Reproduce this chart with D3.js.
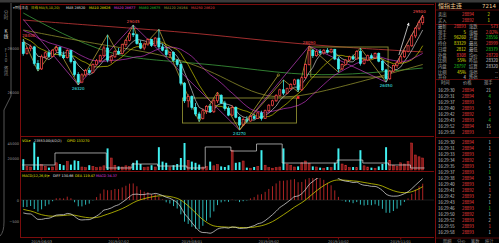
<!DOCTYPE html>
<html>
<head>
<meta charset="utf-8">
<script src="https://cdn.jsdelivr.net/npm/d3@7"></script>
<style>
html, body { margin: 0; padding: 0; background: #000; }
svg { display: block; font-family: "Noto Sans CJK SC", "DejaVu Sans", sans-serif; }
</style>
</head>
<body>
<svg id="chart" width="499" height="243"></svg>
<script>
'use strict';

// closes before the visible window (only used to warm up the averages)
const priorCloses = [29400, 29350, 29200, 29300, 29150, 29000, 29100, 28900, 28950, 28800,
	28700, 28850, 28600, 28650, 28500, 28450, 28550, 28400, 28300];

// daily bars: [open, high, low, close]
const candles = [
	[28250, 28400, 27650, 27750], [27750, 28050, 27700, 27980], [27980, 28150, 27850, 28050], [28050, 28100, 27200, 27300],
	[27300, 27450, 26950, 27050], [27050, 27700, 27000, 27600], [27600, 27850, 27500, 27780], [27780, 27900, 27550, 27620],
	[27620, 27950, 27580, 27900], [27900, 28100, 27800, 28020], [28020, 28080, 27600, 27680], [27680, 27850, 27500, 27560],
	[27560, 27950, 27520, 27880], [27880, 27920, 27300, 27380], [27380, 27420, 26700, 26800], [26800, 26900, 26320, 26450],
	[26450, 26850, 26400, 26780], [26780, 27050, 26700, 26980], [26980, 27100, 26800, 26880], [26880, 27300, 26850, 27250],
	[27250, 27500, 27200, 27420], [27420, 27700, 27350, 27650], [27650, 28100, 27600, 28000], [28000, 28600, 27350, 27450],
	[27450, 27700, 27300, 27600], [27600, 27900, 27550, 27850], [27850, 28000, 27700, 27750], [27750, 28200, 27700, 28150],
	[28150, 28400, 28050, 28350], [28350, 28700, 28300, 28650], [28650, 29045, 28500, 28600], [28600, 28650, 28150, 28200],
	[28200, 28350, 27950, 28000], [28000, 28250, 27900, 28180], [28180, 28450, 28100, 28380], [28380, 28420, 28050, 28120],
	[28120, 28500, 28080, 28450], [28450, 28850, 27950, 28050], [28050, 28200, 27850, 27900], [27900, 28000, 27600, 27700],
	[27700, 27850, 27550, 27800], [27800, 27850, 27400, 27450], [27450, 27500, 27150, 27250], [27250, 27300, 26300, 26400],
	[26400, 26450, 25500, 25600], [25600, 25900, 25300, 25800], [25800, 25850, 25200, 25300], [25300, 25500, 24900, 25000],
	[25000, 25100, 24650, 24800], [24800, 25250, 24750, 25150], [25150, 25400, 25000, 25350], [25350, 25450, 25050, 25100],
	[25100, 25700, 25050, 25600], [25600, 26000, 25500, 25850], [25850, 25900, 25450, 25500], [25500, 25600, 25150, 25250],
	[25250, 25350, 24900, 24950], [24950, 25400, 24900, 25300], [25300, 25350, 24800, 24850], [24850, 24900, 24270, 24500],
	[24500, 24850, 24450, 24750], [24750, 24900, 24600, 24680], [24680, 24950, 24650, 24880], [24880, 25000, 24750, 24800],
	[24800, 25100, 24780, 25050], [25050, 25150, 24700, 24800], [24800, 25200, 24780, 25150], [25150, 25450, 25100, 25400],
	[25400, 25650, 25350, 25600], [25600, 25900, 25550, 25850], [25850, 26150, 25800, 26100], [26100, 26550, 25850, 25950],
	[25950, 26200, 25900, 26150], [26150, 26400, 26100, 26350], [26350, 26600, 26300, 26550], [26550, 26600, 26000, 26100],
	[26100, 26700, 26050, 26650], [26650, 27300, 26600, 27250], [27250, 28090, 27200, 27900], [27900, 27950, 27550, 27650],
	[27650, 27900, 27600, 27850], [27850, 27950, 27700, 27780], [27780, 27950, 27700, 27900], [27900, 28000, 27750, 27820],
	[27820, 27980, 27760, 27940], [27940, 27960, 27450, 27500], [27500, 27600, 26900, 27050], [27050, 27300, 27000, 27250],
	[27250, 27500, 27200, 27450], [27450, 27650, 27400, 27600], [27600, 27700, 27450, 27500], [27500, 27900, 27480, 27850],
	[27850, 28000, 27200, 27300], [27300, 27500, 27250, 27450], [27450, 27700, 27400, 27650], [27650, 27750, 27500, 27550],
	[27550, 27800, 27500, 27750], [27750, 27800, 27350, 27400], [27400, 27450, 26950, 27000], [27000, 27050, 26450, 26600],
	[26600, 27000, 26550, 26950], [26950, 27250, 26900, 27200], [27200, 27400, 27100, 27350], [27350, 27650, 27300, 27600],
	[27600, 27900, 27550, 27850], [27850, 28150, 27800, 28100], [28100, 28600, 28050, 28550], [28550, 28950, 28450, 28900],
	[28900, 29250, 28800, 29150], [29150, 29500, 29050, 29400]
];

const volumes = [
	18000, 6000, 5000, 46000, 22000, 9000, 6000, 4000, 5000, 12000,
	10000, 8000, 14000, 9000, 16000, 15000, 5000, 4000, 8000, 6000,
	4000, 5000, 7000, 36000, 20000, 8000, 6000, 5000, 7000, 6000,
	12000, 16000, 10000, 4000, 5000, 8000, 5000, 38000, 14000, 12000,
	5000, 8000, 10000, 20000, 45000, 16000, 14000, 12000, 9000, 5000,
	6000, 14000, 7000, 9000, 6000, 5000, 8000, 33000, 12000, 13000,
	15000, 4000, 3000, 5000, 6000, 33000, 8000, 4000, 3000, 4000,
	5000, 36000, 10000, 8000, 5000, 6000, 12000, 15000, 11000, 6000,
	5000, 4000, 3000, 5000, 4000, 12000, 36000, 10000, 8000, 4000,
	5000, 4000, 33000, 7000, 5000, 4000, 3000, 6000, 10000, 38000,
	16000, 8000, 6000, 12000, 10000, 14000, 45000, 25000, 22000, 20000
];

// open interest, [first bar of the step, value]
const oiSteps = [[0, 106700], [9, 122700], [23, 102700], [30, 108000], [37, 105300], [45, 102700], [50, 130700],
	[57, 125300], [64, 134700], [71, 109300], [86, 113300], [93, 109300], [100, 106700], [106, 102700], [110, 102700]];

// long averages, [bar, price]
const ma60Pts = [[0, 28820], [21, 28140], [40, 27680], [54, 26770], [67, 25500], [84, 26090], [109, 27250]];
const ma120Pts = [[0, 29590], [10, 28680], [24, 27680], [35, 27450], [54, 27230], [74, 26770], [89, 26770], [109, 27090]];
const ma250Pts = [[0, 29270], [21, 29000], [48, 28680], [76, 28140], [109, 27820]];

// wave lines, [bar, price]
const zigMinor = [[0, 28400], [4, 26950], [9, 28100], [15, 26320], [23, 28600], [26, 27700], [30, 29045], [32, 27950],
	[37, 28850], [48, 24650], [53, 26000], [59, 24270], [71, 26550], [75, 26000], [78, 28090], [86, 26900],
	[92, 28000], [99, 26450], [109, 29500]];
const zigMajor = [[0, 29300], [15, 26320], [30, 29045], [59, 24270], [78, 28090], [99, 26450], [109, 29500]];
const arrows = [[102.5, 27680, 105.2, 29136, '#e0e0e0'], [59, 24270, 69.6, 26770, '#b0a030']];
const signals = [[75, 25750]];

// consolidation boxes, [first bar, last bar, top, bottom]
const boxes = [[44, 74, 25727, 24590], [79, 99, 28045, 26680]];
const extremes = [[0, 'high'], [15, 'low'], [30, 'high'], [59, 'low'], [78, 'high'], [99, 'low'], [109, 'high']];

const priceTicks = [28000, 26000];
const volTicks = [45000, 20000];
const macdTicks = [0, -500];
const dateTicks = [5, 26, 46, 67, 86, 103];
const dateLabels = ['2019/06/03', '2019/07/02', '2019/08/01', '2019/09/02', '2019/10/02', '2019/11/01'];

// quote panel
const bookLabels = ['卖出', '买入'];
const bookPrices = ['28894', '28892'];
const bookSizes = ['2', '1'];
const quoteLeftLabels = ['最新', '现手', '总手', '持仓', '日增', '外盘', '比例', '内盘', '比例', '开仓'];
const quoteLeftValues = ['28893', '5', '96260', '83329', '2812', '8308', '55%', '28797', '45%', '4'];
const quoteLeftColors = ['r', 'y', 'y', 'y', 'y', 'r', 'y', 'g', 'y', 'w'];
const quoteRightLabels = ['涨跌', '涨幅', '开盘', '最高', '最低', '均价', '昨结', '结算', '涨停', '跌停'];
const quoteRightValues = ['573', '2.02%', '28556', '28999', '28379', '28720', '28320', '28320', '--', '--'];
const quoteRightColors = ['r', 'r', 'g', 'r', 'g', 'r', 'w', 'w', 'w', 'w'];
const tickTimes = ['16:29:30', '16:29:31', '16:29:37', '16:29:40', '16:29:42', '16:29:43', '16:29:52', '16:29:58',
	'16:29:30', '16:29:31', '16:29:33', '16:29:34', '16:29:35', '16:29:37', '16:29:38', '16:29:40',
	'16:29:41', '16:29:42', '16:29:43', '16:29:46', '16:29:50', '16:29:52', '16:29:55', '16:29:58'];
const tickPrices = ['28894', '28894', '28893', '28893', '28892', '28893', '28894', '28893',
	'28894', '28894', '28893', '28892', '28893', '28893', '28894', '28893',
	'28892', '28893', '28894', '28893', '28892', '28893', '28893', '28893'];
const tickSizes = ['21', '4', '1', '5', '1', '4', '15', '1', '1', '1', '1', '2', '1', '1', '3', '1',
	'1', '2', '1', '1', '1', '2', '1', '1'];
const tickSizeColors = ['w', 'g', 'r', 'w', 'r', 'g', 'w', 'r', 'w', 'w', 'r', 'w', 'w', 'g', 'w', 'w',
	'r', 'w', 'w', 'g', 'w', 'w', 'r', 'w'];

(function () {

	const C = {
		up: '#ff4848', down: '#40f0f0', frame: '#7a0c0c', axis: '#9a9a9a',
		r: '#ff4040', g: '#20d020', y: '#e6e600', w: '#d8d8d8', lab: '#a8a8a8'
	};
	const svg = d3.select('#chart');
	const plotL = 21, plotR = 434;

	const x = d3.scaleBand()
		.domain(d3.range(candles.length))
		.range([22, 424])
		.paddingInner(0.3);
	const xi = i => x(0) + i * x.step() + x.bandwidth() / 2;

	const y = d3.scaleLinear().domain([24000, 29636]).range([136, 12]);
	const yVol = d3.scaleLinear().domain([0, 45000]).range([170, 143]);
	const yOi = d3.scaleLinear().domain([100000, 140000]).range([170, 140]);
	const yMacd = d3.scaleLinear().domain([-600, 0]).range([226, 200]);

	const defs = svg.append('defs');
	const clip = (id, top, bottom) => defs.append('clipPath').attr('id', id)
		.append('rect').attr('x', plotL).attr('y', top).attr('width', plotR - plotL).attr('height', bottom - top);
	clip('cMain', 10, 136);
	clip('cVol', 137, 171);
	clip('cMacd', 178, 237);
	defs.append('marker').attr('id', 'arr').attr('viewBox', '0 0 6 6').attr('refX', 5).attr('refY', 3)
		.attr('markerWidth', 4).attr('markerHeight', 4).attr('orient', 'auto')
		.append('path').attr('d', 'M0,0 L6,3 L0,6 z').attr('fill', '#e0e0e0');

	// window chrome
	svg.append('rect').attr('width', 499).attr('height', 2.5).attr('fill', '#3a3a3a');
	svg.append('line').attr('x1', plotL).attr('x2', plotR).attr('y1', 4.5).attr('y2', 4.5)
		.attr('stroke', C.frame);
	const frame = svg.append('g').attr('stroke', C.frame).attr('stroke-width', 1);
	[136.5, 171.5, 237.5].forEach(v => frame.append('line')
		.attr('x1', plotL).attr('x2', plotR).attr('y1', v).attr('y2', v));
	frame.append('line').attr('x1', plotL - 0.5).attr('x2', plotL - 0.5).attr('y1', 4).attr('y2', 238);
	frame.append('line').attr('x1', 435.5).attr('x2', 435.5).attr('y1', 2.5).attr('y2', 243);

	// left tab strip
	svg.append('path').attr('d', 'M11,3 V96 L4,110 V222 Q4,232 0,236')
		.attr('fill', 'none').attr('stroke', '#555');
	const tabs = [['分时', 14, '#8a8a8a'], ['K线', 33, '#e0e0e0'], ['F10', 52, '#8a8a8a'], ['资讯', 70, '#8a8a8a']];
	tabs.forEach(t => {
		const g = svg.append('text').attr('font-size', 4.5).attr('fill', t[2]).attr('text-anchor', 'middle');
		Array.from(t[0]).forEach((ch, k) => g.append('tspan').attr('x', 6).attr('y', t[1] + k * 5).text(ch));
	});

	// legends
	const legend = (items, yy) => items.forEach(d => svg.append('text')
		.attr('x', d[1]).attr('y', yy).attr('font-size', 3.4).attr('fill', d[2])
		.attr('font-family', 'DejaVu Sans, Noto Sans CJK SC').text(d[0]));
	legend([['▾恒指主连', 13, '#c8c8c8'], ['日线 MA(5,10,20)', 31, '#c8c800'],
		['MA5 28520', 66, '#e8e8e8'], ['MA10 28626', 89, '#e6e600'],
		['MA20 28677', 114, '#e040e0'], ['MA60 28675', 139, '#30c030'],
		['MA120 28164', 164, '#a0a040'], ['MA250 28620', 191, '#e04040']], 9);
	legend([['VOL▾', 22, '#e6e600'], ['23553.00(4/2/2)', 34, '#e8e8e8'],
		['OPID 133270', 67, '#e6e600']], 141.5);
	legend([['MACD(12,26,9)▾', 22, '#e6e600'], ['DIFF 130.66', 53, '#e8e8e8'],
		['DEA 119.47', 75, '#e6e600'], ['MACD 34.37', 96, '#e040e0']], 176.5);

	// left axes
	const leftAxis = (scale, ticks, fmt) => {
		const g = svg.append('g').attr('transform', `translate(${plotL - 2},0)`)
			.call(d3.axisLeft(scale).tickValues(ticks).tickSize(0).tickPadding(0).tickFormat(fmt));
		g.select('.domain').remove();
		g.selectAll('text').attr('fill', C.axis).attr('font-size', 3.6).attr('font-family', 'DejaVu Sans');
	};
	leftAxis(y, priceTicks, d3.format('d'));
	leftAxis(yVol, volTicks, d3.format('d'));
	leftAxis(yMacd, macdTicks, d3.format('d'));

	// date axis
	const xAxis = svg.append('g').attr('transform', 'translate(0,237.5)')
		.call(d3.axisBottom(x).tickValues(dateTicks).tickSize(2).tickPadding(0.5)
			.tickFormat((d, i) => dateLabels[i]));
	xAxis.select('.domain').remove();
	xAxis.selectAll('line').attr('stroke', C.frame);
	xAxis.selectAll('text').attr('fill', C.axis).attr('font-size', 3.6).attr('font-family', 'DejaVu Sans');

	// ---- main panel
	const main = svg.append('g').attr('clip-path', 'url(#cMain)');
	const line = d3.line().x(d => xi(d[0])).y(d => y(d[1]));
	const smooth = d3.line().x(d => xi(d[0])).y(d => y(d[1])).curve(d3.curveBasis);

	[[ma250Pts, '#c83838'], [ma120Pts, '#3c9c3c'], [ma60Pts, '#8c8c2c']].forEach(m => main.append('path')
		.attr('d', smooth(m[0])).attr('fill', 'none').attr('stroke', m[1]).attr('stroke-width', 0.8));

	boxes.forEach(b => main.append('rect')
		.attr('x', xi(b[0]) - 2).attr('y', y(b[2]))
		.attr('width', xi(b[1]) - xi(b[0]) + 4).attr('height', y(b[3]) - y(b[2]))
		.attr('fill', 'none').attr('stroke', '#8c8c30').attr('stroke-width', 0.9));

	const closes = candles.map(d => d[3]);
	const allCloses = priorCloses.concat(closes);
	const off = priorCloses.length;
	const movingAvg = n => closes.map((c, i) => [i, d3.mean(allCloses.slice(i + off - n + 1, i + off + 1))]);
	[[5, '#e8e8e8'], [10, '#e6e600'], [20, '#e040e0']].forEach(m => main.append('path')
		.attr('d', line(movingAvg(m[0]))).attr('fill', 'none').attr('stroke', m[1]).attr('stroke-width', 0.6));

	main.append('path').attr('d', line(zigMajor)).attr('fill', 'none')
		.attr('stroke', '#c040c0').attr('stroke-width', 0.7);
	main.append('path').attr('d', line(zigMinor)).attr('fill', 'none')
		.attr('stroke', '#c8b040').attr('stroke-width', 0.7);

	const bar = main.selectAll('g.candle')
		.data(candles)
		.enter()
		.append('g')
		.classed('candle', true);
	const col = d => d[3] >= d[0] ? C.up : C.down;
	bar.append('line')
		.attr('x1', (d, i) => xi(i)).attr('x2', (d, i) => xi(i))
		.attr('y1', d => y(d[1])).attr('y2', d => y(d[2]))
		.attr('stroke', col).attr('stroke-width', 0.8);
	bar.append('rect')
		.attr('x', (d, i) => x(i) + 0.25).attr('width', x.bandwidth() - 0.5)
		.attr('y', d => y(Math.max(d[0], d[3])))
		.attr('height', d => Math.max(0.8, Math.abs(y(d[0]) - y(d[3]))))
		.attr('fill', d => d[3] >= d[0] ? '#000' : C.down)
		.attr('stroke', col).attr('stroke-width', 0.7);

	arrows.forEach(a => main.append('line')
		.attr('x1', xi(a[0])).attr('y1', y(a[1])).attr('x2', xi(a[2])).attr('y2', y(a[3]))
		.attr('stroke', a[4]).attr('stroke-width', 0.8)
		.attr('marker-end', a[4] === '#e0e0e0' ? 'url(#arr)' : null));
	main.append('circle').attr('cx', xi(arrows[1][2])).attr('cy', y(arrows[1][3])).attr('r', 1.2)
		.attr('fill', 'none').attr('stroke', arrows[1][4]).attr('stroke-width', 0.6);
	signals.forEach(s => main.append('rect')
		.attr('x', xi(s[0]) - 1.3).attr('y', y(s[1]) - 1.3).attr('width', 2.6).attr('height', 2.6)
		.attr('fill', '#ff3030'));

	extremes.forEach(e => {
		const d = candles[e[0]];
		const hi = e[1] === 'high';
		const anchor = e[0] === 0 ? 'start' : (e[0] === candles.length - 1 ? 'end' : 'middle');
		svg.append('text')
			.attr('x', xi(e[0]) + (anchor === 'start' ? -1 : anchor === 'end' ? 3 : 0))
			.attr('y', hi ? y(d[1]) - 1.8 : y(d[2]) + 5)
			.attr('text-anchor', anchor).attr('font-size', 4).attr('font-family', 'DejaVu Sans')
			.attr('fill', hi ? '#ff5050' : C.down)
			.text(hi ? d[1] : d[2]);
	});

	// ---- volume panel
	const vg = svg.append('g').attr('clip-path', 'url(#cVol)');
	vg.selectAll('rect.vol')
		.data(volumes)
		.enter()
		.append('rect')
		.classed('vol', true)
		.attr('x', (d, i) => x(i) + 0.3).attr('width', x.bandwidth() - 0.6)
		.attr('y', d => yVol(d)).attr('height', d => yVol(0) - yVol(d))
		.attr('fill', (d, i) => candles[i][3] >= candles[i][0] ? '#8a1c1c' : C.down)
		.attr('stroke', (d, i) => candles[i][3] >= candles[i][0] ? '#d03030' : 'none')
		.attr('stroke-width', 0.5);
	vg.append('path')
		.attr('d', d3.line().x(d => d[0] === candles.length ? xi(d[0] - 0.5) : x(d[0])).y(d => yOi(d[1]))
			.curve(d3.curveStepAfter)(oiSteps))
		.attr('fill', 'none').attr('stroke', '#d8d8d8').attr('stroke-width', 0.7);

	// ---- macd panel
	const ema = (arr, n) => {
		const k = 2 / (n + 1);
		let prev = arr[0];
		return arr.map(v => (prev = prev + k * (v - prev)));
	};
	const e12 = ema(allCloses, 12), e26 = ema(allCloses, 26);
	const diffAll = e12.map((v, i) => v - e26[i]);
	const deaAll = ema(diffAll, 9);
	const diff = diffAll.slice(off), dea = deaAll.slice(off);
	const hist = diff.map((v, i) => 2 * (v - dea[i]));

	const mg = svg.append('g').attr('clip-path', 'url(#cMacd)');
	mg.append('line').attr('x1', plotL).attr('x2', plotR).attr('y1', yMacd(0)).attr('y2', yMacd(0))
		.attr('stroke', '#3a3a3a').attr('stroke-width', 0.5);
	mg.selectAll('line.h')
		.data(hist)
		.enter()
		.append('line')
		.classed('h', true)
		.attr('x1', (d, i) => xi(i)).attr('x2', (d, i) => xi(i))
		.attr('y1', yMacd(0)).attr('y2', d => yMacd(d))
		.attr('stroke', d => d >= 0 ? '#c02828' : '#30c8c8').attr('stroke-width', 0.9);
	const ml = d3.line().x((d, i) => xi(i)).y(d => yMacd(d)).curve(d3.curveMonotoneX);
	mg.append('path').attr('d', ml(dea)).attr('fill', 'none').attr('stroke', '#e6e600').attr('stroke-width', 0.7);
	mg.append('path').attr('d', ml(diff)).attr('fill', 'none').attr('stroke', '#e8e8e8').attr('stroke-width', 0.7);

	// ---- quote panel
	const q = svg.append('g').attr('font-size', 4.3).attr('font-family', 'Noto Sans CJK SC');
	const hl = v => q.append('line').attr('x1', 436).attr('x2', 499).attr('y1', v).attr('y2', v)
		.attr('stroke', '#6a0a0a').attr('stroke-width', 0.8);
	const txt = (s, xx, yy, fill, anchor) => q.append('text').attr('x', xx).attr('y', yy)
		.attr('fill', fill).attr('text-anchor', anchor || 'start').text(s);

	q.append('text').attr('x', 438).attr('y', 7.5).attr('font-size', 6).attr('fill', '#f0c890').text('恒指主连');
	q.append('text').attr('x', 496).attr('y', 7.5).attr('font-size', 5.5).attr('fill', '#f0c890')
		.attr('text-anchor', 'end').attr('font-family', 'DejaVu Sans').text('7214');
	hl(10);
	bookLabels.forEach((s, i) => {
		const yy = 15.5 + i * 6.5;
		txt(s, 438, yy, C.lab);
		txt(bookPrices[i], 474, yy, C.r, 'end');
		txt(bookSizes[i], 490, yy, C.y, 'end');
	});
	hl(24.5);
	quoteLeftLabels.forEach((s, i) => {
		const yy = 28 + i * 5.7;
		txt(s, 438, yy, C.lab);
		txt(quoteLeftValues[i], 466, yy, C[quoteLeftColors[i]], 'end');
		txt(quoteRightLabels[i], 469, yy, C.lab);
		txt(quoteRightValues[i], 498, yy, C[quoteRightColors[i]], 'end');
	});
	hl(79.5);
	txt('时间', 441, 84, C.lab);
	txt('价格', 463, 84, C.lab);
	txt('现手', 484, 84, C.lab);
	tickTimes.forEach((s, i) => {
		const yy = i < 8 ? 91.5 + i * 6.1 : 143.5 + (i - 8) * 6;
		txt(s, 438, yy, '#c8c8c8');
		txt(tickPrices[i], 474, yy, C.r, 'end');
		txt(tickSizes[i], 491, yy, C[tickSizeColors[i]], 'end');
	});
	hl(137.5);
	hl(238);
	['明细', '分价', '笔数', '统计'].forEach((s, i) => txt(s, 443 + i * 14, 242.5, '#8a8a8a'));

})();
</script>
</body>
</html>
